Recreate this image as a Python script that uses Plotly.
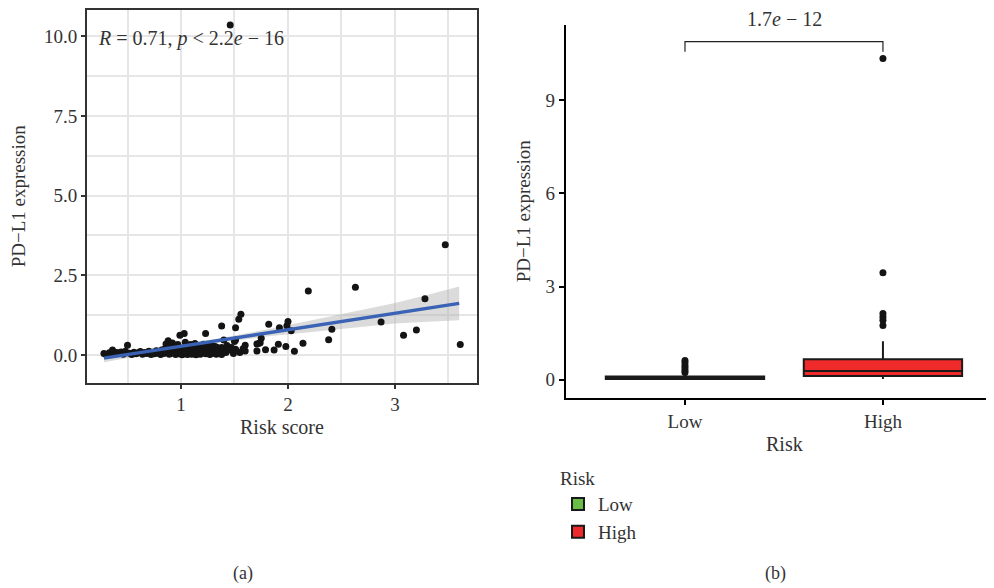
import plotly.graph_objects as go

# ---------------- data ----------------
risk_score = [0.28, 0.30, 0.33, 0.35, 0.36, 0.38, 0.40, 0.42, 0.44, 0.46,
              0.48, 0.50, 0.52, 0.54, 0.56, 0.58, 0.60, 0.62, 0.64, 0.66,
              0.68, 0.70, 0.72, 0.74, 0.75, 0.77, 0.78, 0.80, 0.81, 0.82,
              0.84, 0.85, 0.86, 0.87, 0.88, 0.89, 0.90, 0.91, 0.92, 0.93,
              0.94, 0.95, 0.96, 0.97, 0.98, 0.99, 0.99, 1.00, 1.01, 1.01,
              1.02, 1.03, 1.03, 1.04, 1.05, 1.06, 1.06, 1.07, 1.08, 1.09,
              1.10, 1.10, 1.11, 1.12, 1.13, 1.14, 1.15, 1.16, 1.17, 1.18,
              1.19, 1.20, 1.21, 1.22, 1.23, 1.23, 1.24, 1.25, 1.26, 1.27,
              1.28, 1.29, 1.30, 1.31, 1.32, 1.33, 1.34, 1.35, 1.36, 1.38,
              1.38, 1.38, 1.40, 1.41, 1.42, 1.43, 1.45, 1.46, 1.47, 1.49,
              1.51, 1.51, 1.51, 1.54, 1.55, 1.56, 1.58, 1.60, 1.60, 1.71,
              1.71, 1.73, 1.75, 1.79, 1.82, 1.87, 1.91, 1.92, 1.98, 1.99,
              2.00, 2.03, 2.06, 2.14, 2.19, 2.38, 2.41, 2.63, 2.87, 3.08,
              3.20, 3.28, 3.47, 3.61, 1.50, 1.47, 1.74,
              0.86, 0.92, 0.97, 1.04, 1.09, 1.13, 1.18, 1.21, 1.27, 1.32]
pdl1_expr = [0.05, 0.02, 0.07, 0.04, 0.16, 0.03, 0.08, 0.05, 0.10, 0.03,
             0.12, 0.31, 0.06, 0.02, 0.09, 0.04, 0.07, 0.11, 0.03, 0.08,
             0.05, 0.12, 0.02, 0.09, 0.04, 0.14, 0.06, 0.10, 0.02, 0.16,
             0.05, 0.20, 0.08, 0.13, 0.45, 0.03, 0.24, 0.10, 0.30, 0.06,
             0.18, 0.02, 0.27, 0.12, 0.04, 0.62, 0.15, 0.07, 0.21, 0.01,
             0.11, 0.68, 0.04, 0.17, 0.09, 0.25, 0.02, 0.13, 0.06, 0.19,
             0.03, 0.28, 0.10, 0.05, 0.16, 0.01, 0.22, 0.08, 0.12, 0.03,
             0.18, 0.07, 0.26, 0.11, 0.68, 0.04, 0.15, 0.09, 0.21, 0.02,
             0.13, 0.29, 0.06, 0.17, 0.10, 0.03, 0.24, 0.14, 0.07, 0.91,
             0.24, 0.02, 0.47, 0.12, 0.08, 0.30, 0.16, 10.35, 0.24, 0.05,
             0.86, 0.47, 0.18, 1.12, 0.08, 1.28, 0.20, 0.31, 0.13, 0.35,
             0.13, 0.37, 0.53, 0.17, 0.97, 0.16, 0.34, 0.86, 0.27, 0.92,
             1.05, 0.76, 0.12, 0.37, 2.01, 0.48, 0.81, 2.13, 1.04, 0.62,
             0.79, 1.77, 3.46, 0.33, 0.43, 0.19, 0.39,
             0.35, 0.38, 0.33, 0.40, 0.33, 0.36, 0.30, 0.34, 0.31, 0.27]

# linear fit with 95% confidence band
fit_x = [0.28, 0.60, 1.00, 1.40, 1.80, 2.20, 2.60, 3.00, 3.30, 3.60]
fit_y = [-0.095, 0.070, 0.277, 0.484, 0.691, 0.897, 1.104, 1.311, 1.466, 1.621]
fit_lo = [-0.225, -0.020, 0.217, 0.414, 0.581, 0.717, 0.844, 0.991, 1.046, 1.091]
fit_hi = [0.035, 0.160, 0.337, 0.554, 0.801, 1.077, 1.364, 1.631, 1.886, 2.151]

# box-plot summary by risk group
groups = ["Low", "High"]
box_q1 = [0.02, 0.12]
box_median = [0.05, 0.28]
box_q3 = [0.10, 0.66]
box_lower = [0.00, 0.02]
box_upper = [0.20, 1.24]
box_colors = ["#6BBE45", "#EE2A2A"]
outlier_group = ["Low", "Low", "Low", "Low", "Low", "Low",
                 "High", "High", "High", "High", "High", "High"]
outlier_value = [0.23, 0.30, 0.38, 0.45, 0.55, 0.62,
                 1.75, 1.92, 2.02, 2.13, 3.45, 10.35]
bracket_y = [10.57, 10.89]
p_label = "1.7<i>e</i> − 12"
r_label = "<i>R</i> = 0.71, <i>p</i> &lt; 2.2<i>e</i> − 16"

# ---------------- layout helpers ----------------
# the page body has an 8px margin; draw into the remaining area
OFF = 8
W, H = 994 - OFF, 588 - OFF
def fx(px):
    return min(1.0, max(0.0, (px - OFF) / W))
def fy(py):
    return min(1.0, max(0.0, 1 - (py - OFF) / H))

FONT = "Liberation Serif"
TXT = "#333333"

fig = go.Figure()

# panel (a)
fig.add_trace(go.Scatter(x=fit_x, y=fit_lo, mode="lines", line=dict(width=0),
                         hoverinfo="skip", showlegend=False, xaxis="x", yaxis="y"))
fig.add_trace(go.Scatter(x=fit_x, y=fit_hi, mode="lines", line=dict(width=0),
                         fill="tonexty", fillcolor="rgba(175,175,175,0.45)",
                         hoverinfo="skip", showlegend=False, xaxis="x", yaxis="y"))
fig.add_trace(go.Scatter(x=risk_score, y=pdl1_expr, mode="markers",
                         marker=dict(color="#141414", size=7),
                         showlegend=False, xaxis="x", yaxis="y"))
fig.add_trace(go.Scatter(x=fit_x, y=fit_y, mode="lines",
                         line=dict(color="#3A62B5", width=3.5),
                         showlegend=False, xaxis="x", yaxis="y"))

# panel (b)
for g, q1, md, q3, lo, hi, c in zip(groups, box_q1, box_median, box_q3,
                                    box_lower, box_upper, box_colors):
    fig.add_trace(go.Box(x=[g], q1=[q1], median=[md], q3=[q3],
                         lowerfence=[lo], upperfence=[hi], name=g,
                         fillcolor=c, line=dict(color="#1a1a1a", width=2),
                         whiskerwidth=0, width=0.8, boxpoints=False,
                         xaxis="x2", yaxis="y2", showlegend=True))
fig.add_trace(go.Scatter(x=outlier_group, y=outlier_value, mode="markers",
                         marker=dict(color="#141414", size=7),
                         showlegend=False, xaxis="x2", yaxis="y2"))
fig.add_trace(go.Scatter(x=["Low", "Low", "High", "High"],
                         y=[bracket_y[0], bracket_y[1], bracket_y[1], bracket_y[0]],
                         mode="lines", line=dict(color="#222222", width=1.2),
                         showlegend=False, xaxis="x2", yaxis="y2"))

grid = "#e6e6e6"
fig.update_layout(
    width=W, height=H,
    margin=dict(l=0, r=0, t=0, b=0),
    paper_bgcolor="white", plot_bgcolor="white",
    font=dict(family=FONT, size=15, color=TXT),
    xaxis=dict(domain=[fx(87), fx(477)], range=[0.1215, 3.7665],
               tickvals=[1, 2, 3], ticktext=["1", "2", "3"],
               showgrid=True, gridcolor=grid, gridwidth=1.5,
               minor=dict(tickvals=[0.5, 1.5, 2.5, 3.5], showgrid=True,
                          gridcolor=grid, gridwidth=1.5, ticks=""),
               showline=True, linecolor="#333333", linewidth=1.8, mirror=True,
               ticks="outside", ticklen=4, tickwidth=1.5, tickcolor="#333333",
               zeroline=False, anchor="y",
               tickfont=dict(size=19, color=TXT)),
    yaxis=dict(domain=[fy(382), fy(8)], range=[-0.866, 10.82],
               tickvals=[0, 2.5, 5, 7.5, 10],
               ticktext=["0.0", "2.5", "5.0", "7.5", "10.0"],
               showgrid=True, gridcolor=grid, gridwidth=1.5,
               minor=dict(tickvals=[1.25, 3.75, 6.25, 8.75], showgrid=True,
                          gridcolor=grid, gridwidth=1.5, ticks=""),
               showline=True, linecolor="#333333", linewidth=1.8, mirror=True,
               ticks="outside", ticklen=4, tickwidth=1.5, tickcolor="#333333",
               zeroline=False, anchor="x",
               tickfont=dict(size=19, color=TXT)),
    xaxis2=dict(domain=[fx(566), 1.0], range=[-0.601, 1.561],
                type="category", categoryorder="array", categoryarray=groups,
                showgrid=False, showline=True, linecolor="black", linewidth=2.2,
                ticks="outside", ticklen=5, tickwidth=2, tickcolor="black",
                zeroline=False, anchor="y2",
                tickfont=dict(size=19, color=TXT)),
    yaxis2=dict(domain=[fy(397), fy(23)], range=[-0.578, 11.43],
                tickvals=[0, 3, 6, 9],
                showgrid=False, showline=True, linecolor="black", linewidth=2.2,
                ticks="outside", ticklen=5, tickwidth=2, tickcolor="black",
                zeroline=False, anchor="x2",
                tickfont=dict(size=19, color=TXT)),
    legend=dict(x=fx(558), y=fy(460), xanchor="left", yanchor="top",
                title=dict(text="Risk", font=dict(size=19, color=TXT)),
                font=dict(size=19, color=TXT), bgcolor="rgba(0,0,0,0)",
                tracegroupgap=0, traceorder="normal"),
    showlegend=True,
)

def ann(text, px, py, size=17, angle=0, xanchor="center"):
    fig.add_annotation(text=text, x=fx(px), y=fy(py), xref="paper", yref="paper",
                       showarrow=False, textangle=angle, xanchor=xanchor,
                       yanchor="middle", font=dict(family=FONT, size=size, color=TXT))

ann(r_label, 96, 37, size=20, xanchor="left")
ann(p_label, 784, 17, size=20)
ann("Risk score", 282, 426, size=20)
ann("PD−L1 expression", 18, 195, size=19, angle=-90)
ann("PD−L1 expression", 523, 210, size=19, angle=-90)
ann("Risk", 784, 444, size=20)
ann("(a)", 243, 573, size=18)
ann("(b)", 775, 573, size=18)

fig.write_html("out.html")
